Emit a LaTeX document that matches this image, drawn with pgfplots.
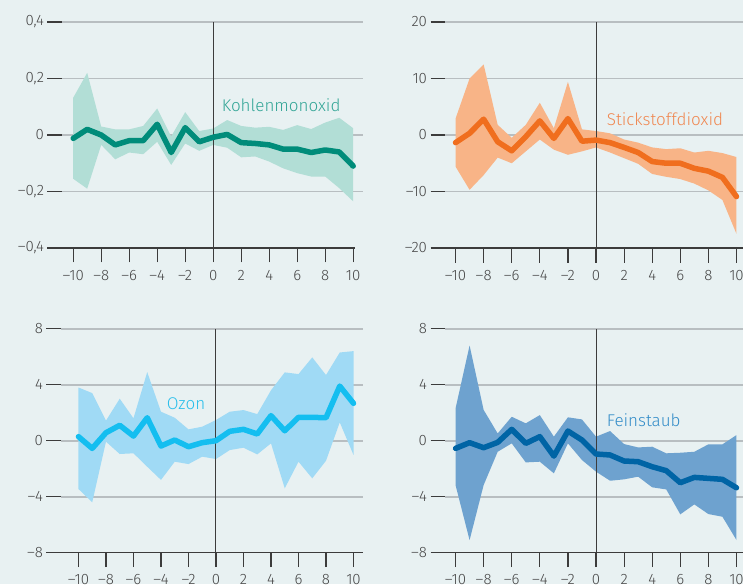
\documentclass[border=0pt]{standalone}
\usepackage{fontspec}
\IfFontExistsTF{Fira Sans Light}{\setmainfont{Fira Sans Light}}{\setmainfont{Fira Sans}}
\usepackage{xcolor}
\usepackage{pgfplots}
\pgfplotsset{compat=1.18}
\usepackage{pgfplotstable}

\definecolor{bg}{RGB}{232,241,242}
\definecolor{axgray}{RGB}{60,60,60}
\definecolor{gridgray}{RGB}{184,190,193}
\definecolor{labgray}{RGB}{70,70,70}
\definecolor{coline}{RGB}{0,140,122}
\definecolor{coband}{RGB}{178,222,214}
\definecolor{colab}{RGB}{50,165,150}
\definecolor{noline}{RGB}{240,110,30}
\definecolor{noband}{RGB}{248,180,135}
\definecolor{nolab}{RGB}{240,135,80}
\definecolor{ozline}{RGB}{20,190,240}
\definecolor{ozband}{RGB}{160,218,245}
\definecolor{ozlab}{RGB}{40,190,235}
\definecolor{pmline}{RGB}{0,100,165}
\definecolor{pmband}{RGB}{110,162,207}
\definecolor{pmlab}{RGB}{50,140,200}
\pagecolor{bg}

% Schaetzungen (x = Jahr relativ zum Ereignis)
\pgfplotstableread{
x m
-10 -0.012
-9 0.020
-8 0.000
-7 -0.035
-6 -0.020
-5 -0.020
-4 0.038
-3 -0.062
-2 0.026
-1 -0.024
0 -0.008
1 0.002
2 -0.027
3 -0.030
4 -0.035
5 -0.050
6 -0.050
7 -0.062
8 -0.053
9 -0.060
10 -0.110
}\coline

% Konfidenzband: obere Grenze vorwaerts, untere Grenze rueckwaerts
\pgfplotstableread{
x y
-10 0.132
-9 0.220
-8 0.030
-7 0.020
-6 0.020
-5 0.032
-4 0.094
-3 -0.005
-2 0.081
-1 0.014
0 0.023
1 0.053
2 0.032
3 0.026
4 0.029
5 0.018
6 0.035
7 0.021
8 0.044
9 0.061
10 0.024
10 -0.235
9 -0.188
8 -0.147
7 -0.147
6 -0.135
5 -0.118
4 -0.094
3 -0.076
2 -0.079
1 -0.045
0 -0.035
-1 -0.056
-2 -0.030
-3 -0.106
-4 -0.024
-5 -0.068
-6 -0.062
-7 -0.086
-8 -0.035
-9 -0.190
-10 -0.155
}\coband

\pgfplotstableread{
x m
-10 -1.35
-9 0.3
-8 2.8
-7 -1.2
-6 -2.8
-5 -0.3
-4 2.5
-3 -0.6
-2 2.9
-1 -1.1
0 -0.9
1 -1.35
2 -2.2
3 -3.1
4 -4.7
5 -5.0
6 -5.0
7 -5.9
8 -6.4
9 -7.5
10 -10.9
}\noline

\pgfplotstableread{
x y
-10 2.9
-9 10.0
-8 12.5
-7 1.8
-6 -0.5
-5 1.8
-4 5.7
-3 1.2
-2 9.4
-1 1.0
0 0.7
1 0.3
2 -0.8
3 -1.35
4 -2.2
5 -2.5
6 -2.35
7 -3.1
8 -2.8
9 -3.2
10 -3.9
10 -17.5
9 -11.5
8 -9.8
7 -8.6
6 -7.8
5 -7.4
4 -6.9
3 -5.1
2 -4.1
1 -3.1
0 -2.2
-1 -2.9
-2 -3.5
-3 -2.6
-4 -0.8
-5 -2.9
-6 -5.0
-7 -4.0
-8 -7.1
-9 -9.7
-10 -5.6
}\noband

\pgfplotstableread{
x m
-10 0.29
-9 -0.55
-8 0.57
-7 1.1
-6 0.33
-5 1.64
-4 -0.38
-3 0.05
-2 -0.43
-1 -0.14
0 0.0
1 0.67
2 0.81
3 0.48
4 1.79
5 0.71
6 1.67
7 1.67
8 1.64
9 3.9
10 2.67
}\ozline

\pgfplotstableread{
x y
-10 3.8
-9 3.4
-8 1.43
-7 3.0
-6 1.6
-5 4.9
-4 2.07
-3 1.64
-2 0.81
-1 1.0
0 1.48
1 2.07
2 2.19
3 1.9
4 3.6
5 4.88
6 4.76
7 5.95
8 4.69
9 6.3
10 6.4
10 -1.02
9 1.31
8 -1.43
7 -2.69
6 -1.5
5 -3.4
4 -0.19
3 -0.98
2 -0.5
1 -0.67
0 -1.31
-1 -1.14
-2 -1.67
-3 -1.5
-4 -2.8
-5 -1.86
-6 -0.9
-7 -0.95
-8 -0.07
-9 -4.4
-10 -3.45
}\ozband

\pgfplotstableread{
x m
-10 -0.55
-9 -0.14
-8 -0.5
-7 -0.12
-6 0.81
-5 -0.19
-4 0.29
-3 -1.1
-2 0.69
-1 0.05
0 -0.95
1 -1.02
2 -1.45
3 -1.5
4 -1.86
5 -2.14
6 -3.0
7 -2.62
8 -2.69
9 -2.76
10 -3.36
}\pmline

\pgfplotstableread{
x y
-10 2.3
-9 6.8
-8 2.2
-7 0.52
-6 1.71
-5 1.24
-4 1.83
-3 0.29
-2 1.67
-1 1.52
0 0.29
1 0.69
2 -0.24
3 -0.48
4 -0.43
5 -0.9
6 -0.86
7 -0.79
8 -0.26
9 -0.26
10 0.4
10 -7.1
9 -5.43
8 -5.24
7 -4.55
6 -5.26
5 -3.48
4 -3.33
3 -2.57
2 -2.76
1 -2.86
0 -2.21
-1 -1.38
-2 -0.19
-3 -2.33
-4 -1.5
-5 -1.55
-6 -0.19
-7 -0.79
-8 -3.17
-9 -7.1
-10 -3.17
}\pmband

\tikzset{gline/.style={draw=gridgray, line width=1.7pt}}

\pgfplotsset{
  panel/.style={
    scale only axis, anchor=south west,
    axis line style={draw=none},
    tick align=outside, major tick length=14.5pt,
    tick style={draw=axgray, line width=1.2pt},
    xtick pos=left, ytick pos=left,
    xtick={-10,-8,...,10},
    xticklabels={–10,–8,–6,–4,–2,0,2,4,6,8,10},
    tick label style={font=\fontsize{15}{15}\selectfont, text=labgray},
    xticklabel style={yshift=-4pt},
    clip=false,
  },
  band/.style={draw=none, fill=#1},
  mean/.style={draw=#1, line width=5.5pt, line cap=round, line join=round},
}

\begin{document}
\begin{tikzpicture}

% Kohlenmonoxid
\begin{axis}[panel, at={(62pt,336pt)}, width=301pt, height=226pt,
  xmin=-10.8, xmax=10.7, ymin=-0.4, ymax=0.4,
  ytick={-0.4,-0.2,0,0.2,0.4},
  yticklabels={{–0,4},{–0,2},0,{0,2},{0,4}}]
  \draw[gline] (axis cs:-10.8,-0.2) -- (axis cs:10.7,-0.2);
  \draw[gline] (axis cs:-10.8,0) -- (axis cs:10.7,0);
  \draw[gline] (axis cs:-10.8,0.2) -- (axis cs:10.7,0.2);
  \draw[gline] (axis cs:-10.8,0.4) -- (axis cs:10.7,0.4);
  \addplot[band=coband] table[x=x, y=y] {\coband};
  \draw[axgray, line width=1.2pt] (rel axis cs:0,0) -- (axis cs:10.15,-0.4);
  \draw[axgray, line width=1pt] (axis cs:0,-0.4) -- (axis cs:0,0.4);
  \addplot[mean=coline] table[x=x, y=m] {\coline};
\end{axis}

% Stickstoffdioxid
\begin{axis}[panel, at={(445pt,336pt)}, width=302pt, height=226pt,
  xmin=-10.75, xmax=10.75, ymin=-20, ymax=20,
  ytick={-20,-10,0,10,20},
  yticklabels={–20,–10,0,10,20}]
  \draw[gline] (axis cs:-10.75,-10) -- (axis cs:10.75,-10);
  \draw[gline] (axis cs:-10.75,0) -- (axis cs:10.75,0);
  \draw[gline] (axis cs:-10.75,10) -- (axis cs:10.75,10);
  \draw[gline] (axis cs:-10.75,20) -- (axis cs:10.75,20);
  \addplot[band=noband] table[x=x, y=y] {\noband};
  \draw[axgray, line width=1.2pt] (rel axis cs:0,0) -- (rel axis cs:1,0);
  \draw[axgray, line width=1pt] (axis cs:0,-20) -- (axis cs:0,20);
  \addplot[mean=noline] table[x=x, y=m] {\noline};
\end{axis}

% Ozon
\begin{axis}[panel, at={(61pt,31.3pt)}, width=302pt, height=224pt,
  xmin=-11.27, xmax=10.69, ymin=-8, ymax=8,
  ytick={-8,-4,0,4,8},
  yticklabels={–8,–4,0,4,8}]
  \draw[gline] (axis cs:-11.27,-4) -- (axis cs:10.69,-4);
  \draw[gline] (axis cs:-11.27,0) -- (axis cs:10.69,0);
  \draw[gline] (axis cs:-11.27,4) -- (axis cs:10.69,4);
  \draw[gline] (axis cs:-11.27,8) -- (axis cs:10.69,8);
  \addplot[band=ozband] table[x=x, y=y] {\ozband};
  \draw[axgray, line width=1.2pt] (rel axis cs:0,0) -- (rel axis cs:1,0);
  \draw[axgray, line width=1pt] (axis cs:0,-8) -- (axis cs:0,8);
  \addplot[mean=ozline] table[x=x, y=m] {\ozline};
\end{axis}

% Feinstaub
\begin{axis}[panel, at={(445pt,31.3pt)}, width=302pt, height=224pt,
  xmin=-10.75, xmax=10.75, ymin=-8, ymax=8,
  ytick={-8,-4,0,4,8},
  yticklabels={–8,–4,0,4,8}]
  \draw[gline] (axis cs:-10.75,-4) -- (axis cs:10.75,-4);
  \draw[gline] (axis cs:-10.75,0) -- (axis cs:10.75,0);
  \draw[gline] (axis cs:-10.75,4) -- (axis cs:10.75,4);
  \draw[gline] (axis cs:-10.75,8) -- (axis cs:10.75,8);
  \addplot[band=pmband] table[x=x, y=y] {\pmband};
  \draw[axgray, line width=1.2pt] (rel axis cs:0,0) -- (rel axis cs:1,0);
  \draw[axgray, line width=1pt] (axis cs:0,-8) -- (axis cs:0,8);
  \addplot[mean=pmline] table[x=x, y=m] {\pmline};
\end{axis}

\begin{scope}[every node/.style={anchor=base west, inner sep=0pt, font=\fontsize{17}{17}\selectfont}]
  \node[text=colab] at (221.7pt,472.3pt) {Kohlenmonoxid};
  \node[text=nolab] at (606.7pt,458.3pt) {Stickstoffdioxid};
  \node[text=ozlab] at (166.7pt,174.7pt) {Ozon};
  \node[text=pmlab] at (606.7pt,157.3pt) {Feinstaub};
\end{scope}
\pgfresetboundingbox
\path[use as bounding box] (0,0) rectangle (743pt,584pt);
\end{tikzpicture}
\end{document}
